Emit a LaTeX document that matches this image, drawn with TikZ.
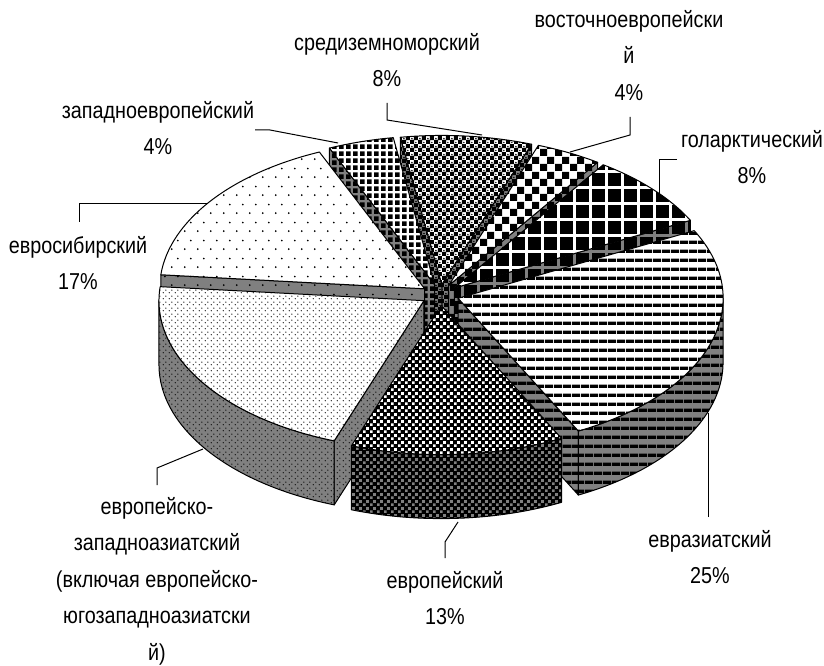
\documentclass[tikz,border=0pt]{standalone}
\usepackage{fontspec}
\setmainfont{Liberation Sans}[FakeStretch=0.86]
\usepackage{tikz}
\usetikzlibrary{calc,patterns}

% fill patterns of the slices
\pgfdeclarepatternformonly{stripes}{\pgfqpoint{0pt}{0pt}}{\pgfqpoint{8.6pt}{8.6pt}}{\pgfqpoint{8.6pt}{8.6pt}}{%
  \pgfpathrectangle{\pgfpointorigin}{\pgfqpoint{8.6pt}{3.4pt}}\pgfusepath{fill}}
\pgfdeclarepatternformonly{bigblocks}{\pgfqpoint{0pt}{0pt}}{\pgfqpoint{16pt}{16pt}}{\pgfqpoint{16pt}{16pt}}{%
  \pgfpathrectangle{\pgfpointorigin}{\pgfqpoint{13.6pt}{13.6pt}}\pgfusepath{fill}}
\pgfdeclarepatternformonly{smallblocks}{\pgfqpoint{0pt}{0pt}}{\pgfqpoint{6.5pt}{6.5pt}}{\pgfqpoint{6.5pt}{6.5pt}}{%
  \pgfpathrectangle{\pgfpointorigin}{\pgfqpoint{5pt}{5pt}}\pgfusepath{fill}}
\pgfdeclarepatternformonly{bigcheck}{\pgfqpoint{0pt}{0pt}}{\pgfqpoint{15pt}{15pt}}{\pgfqpoint{15pt}{15pt}}{%
  \pgfpathrectangle{\pgfpointorigin}{\pgfqpoint{7.5pt}{7.5pt}}%
  \pgfpathrectangle{\pgfqpoint{7.5pt}{7.5pt}}{\pgfqpoint{7.5pt}{7.5pt}}\pgfusepath{fill}}
\pgfdeclarepatternformonly{bubbles}{\pgfqpoint{0pt}{0pt}}{\pgfqpoint{8.4pt}{8.4pt}}{\pgfqpoint{8.4pt}{8.4pt}}{%
  \pgfpathrectangle{\pgfpointorigin}{\pgfqpoint{4.4pt}{4.4pt}}%
  \pgfpathrectangle{\pgfqpoint{4.2pt}{4.2pt}}{\pgfqpoint{4.4pt}{4.4pt}}%
  \pgfpathcircle{\pgfqpoint{6.3pt}{1.6pt}}{0.9pt}%
  \pgfpathcircle{\pgfqpoint{2.1pt}{5.8pt}}{0.9pt}\pgfusepath{fill}}
\pgfdeclarepatternformonly{sparsedots}{\pgfqpoint{0pt}{0pt}}{\pgfqpoint{13pt}{18pt}}{\pgfqpoint{13pt}{18pt}}{%
  \pgfpathcircle{\pgfqpoint{3pt}{3pt}}{1pt}%
  \pgfpathcircle{\pgfqpoint{9.5pt}{12pt}}{1pt}\pgfusepath{fill}}
\pgfdeclarepatternformonly{finedots}{\pgfqpoint{0pt}{0pt}}{\pgfqpoint{6pt}{6pt}}{\pgfqpoint{6pt}{6pt}}{%
  \pgfpathcircle{\pgfqpoint{1.5pt}{1.5pt}}{0.75pt}%
  \pgfpathcircle{\pgfqpoint{4.5pt}{4.5pt}}{0.75pt}\pgfusepath{fill}}
\pgfdeclarepatternformonly{weave}{\pgfqpoint{0pt}{0pt}}{\pgfqpoint{6.6pt}{6.6pt}}{\pgfqpoint{6.6pt}{6.6pt}}{%
  \pgfpathrectangle{\pgfpointorigin}{\pgfqpoint{2.8pt}{2.8pt}}%
  \pgfpathrectangle{\pgfqpoint{3.3pt}{3.3pt}}{\pgfqpoint{2.8pt}{2.8pt}}\pgfusepath{fill}}

% pie: centre, radii, depth, explosion
\def\cx{440} \def\cy{370} \def\ra{265} \def\rb{149} \def\dep{64} \def\ex{19} \def\ey{10.6}

% top face: start, end, mid angle, style
\newcommand\sltop[4]{%
  \path[#4] ($(\cx,\cy)+({\ex*cos(#3)},{\ey*sin(#3)})$) -- ++({\ra*cos(#1)},{\rb*sin(#1)})
    arc[start angle=#1, end angle=#2, x radius=\ra, y radius=\rb] -- cycle;}
% outer wall: from, to, mid angle, style
\newcommand\slwall[4]{%
  \path[#4] ($(\cx,\cy)+({\ex*cos(#3)},{\ey*sin(#3)})$) ++({\ra*cos(#1)},{\rb*sin(#1)})
    arc[start angle=#1, end angle=#2, x radius=\ra, y radius=\rb] -- ++(0,-\dep)
    arc[start angle=#2, end angle=#1, x radius=\ra, y radius=\rb] -- cycle;}
% cut face: angle, mid angle, style
\newcommand\slcut[3]{%
  \path[#3] ($(\cx,\cy)+({\ex*cos(#2)},{\ey*sin(#2)})$) -- ++({\ra*cos(#1)},{\rb*sin(#1)})
    -- ++(0,-\dep) -- ++({-\ra*cos(#1)},{-\rb*sin(#1)}) -- cycle;}

\tikzstyle{face} = [draw, line width=1pt, line join=round]
\tikzstyle{leader} = [draw, line width=1pt]
\tikzstyle{lbl} = [anchor=north, align=center, inner sep=0pt, font=\fontsize{23}{36.5}\selectfont]

\tikzstyle{medtop} = [face, preaction={fill=white}, pattern=bubbles]
\tikzstyle{medside} = [face, preaction={fill=gray}, pattern=bubbles]
\tikzstyle{westtop} = [face, preaction={fill=white}, pattern=smallblocks]
\tikzstyle{westside} = [face, preaction={fill=gray}, pattern=smallblocks]
\tikzstyle{easttop} = [face, preaction={fill=white}, pattern=bigcheck]
\tikzstyle{eastside} = [face, preaction={fill=gray}, pattern=bigcheck]
\tikzstyle{holtop} = [face, preaction={fill=white}, pattern=bigblocks]
\tikzstyle{holside} = [face, preaction={fill=gray}, pattern=bigblocks]
\tikzstyle{sibtop} = [face, preaction={fill=white}, pattern=sparsedots]
\tikzstyle{sibside} = [face, preaction={fill=gray}, pattern=sparsedots]
\tikzstyle{eatop} = [face, preaction={fill=white}, pattern=stripes]
\tikzstyle{easide} = [face, preaction={fill=gray}, pattern=stripes]
\tikzstyle{eztop} = [face, preaction={fill=white}, pattern=finedots]
\tikzstyle{ezside} = [face, preaction={fill=gray}, pattern=finedots]
\tikzstyle{eutop} = [face, preaction={fill=black}, pattern=weave, pattern color=white]
\tikzstyle{euside} = [face, preaction={fill=black}, pattern=weave, pattern color=gray]

\begin{document}
\begin{tikzpicture}[x=1pt, y=1pt]
    \useasboundingbox (0,0) rectangle (824,665);

    % slices, back to front
    \slcut{70.2}{84.6}{medside}
    \slcut{99}{84.6}{medside}
    \sltop{70.2}{99}{84.6}{medtop}
    \slcut{113.4}{106.2}{westside}
    \sltop{99}{113.4}{106.2}{westtop}
    \slcut{55.8}{63}{eastside}
    \sltop{55.8}{70.2}{63}{easttop}
    \slcut{27}{41.4}{holside}
    \sltop{27}{55.8}{41.4}{holtop}
    \slcut{174.6}{144}{sibside}
    \sltop{113.4}{174.6}{144}{sibtop}
    \slcut{297}{342}{easide}
    \slwall{297}{360}{342}{easide}
    \sltop{297}{387}{342}{eatop}
    \slcut{250.2}{212.4}{ezside}
    \slwall{180}{250.2}{212.4}{ezside}
    \sltop{174.6}{250.2}{212.4}{eztop}
    \slwall{250.2}{297}{273.6}{euside}
    \sltop{250.2}{297}{273.6}{eutop}

    % labels
    \node [lbl] (medlab) at (387,632) {средиземноморский\\8\%};
    \node [lbl] (eastlab) at (629,655) {восточноевропейски\\й\\4\%};
    \node [lbl] (westlab) at (158,564) {западноевропейский\\4\%};
    \node [lbl] (hollab) at (752,535) {голарктический\\8\%};
    \node [lbl] (siblab) at (78,429) {евросибирский\\17\%};
    \node [lbl] (ezlab) at (157,168) {европейско-\\западноазиатский\\(включая европейско-\\югозападноазиатски\\й)};
    \node [lbl] (eulab) at (445,94) {европейский\\13\%};
    \node [lbl] (ealab) at (710,135) {евразиатский\\25\%};

    % leader lines
    \coordinate (medA) at (387,562);  \coordinate (medB) at (482,530);
    \coordinate (eastA) at (630,548); \coordinate (eastB) at (570,513);
    \coordinate (westA) at (255,535); \coordinate (westB) at (338,522);
    \coordinate (holA) at (677,505);  \coordinate (holB) at (659,470);
    \coordinate (sibA) at (79,443);   \coordinate (sibB) at (207,461);
    \coordinate (ezA) at (157,180);   \coordinate (ezB) at (203,216);
    \coordinate (euA) at (445,107);   \coordinate (euB) at (458,143);
    \coordinate (eaA) at (708,148);   \coordinate (eaB) at (708,252);

    \path [leader] (medA) -- ++(0,-17) -- (medB);
    \path [leader] (eastA) -- ++(0,-18) -- (eastB);
    \path [leader] (westA) -- ++(15,0) -- (westB);
    \path [leader] (holA) -| (holB);
    \path [leader] (sibA) |- (sibB);
    \path [leader] (ezA) -- ++(0,17) -- (ezB);
    \path [leader] (euA) -- ++(0,16) -- (euB);
    \path [leader] (eaA) -- (eaB);
\end{tikzpicture}
\end{document}
